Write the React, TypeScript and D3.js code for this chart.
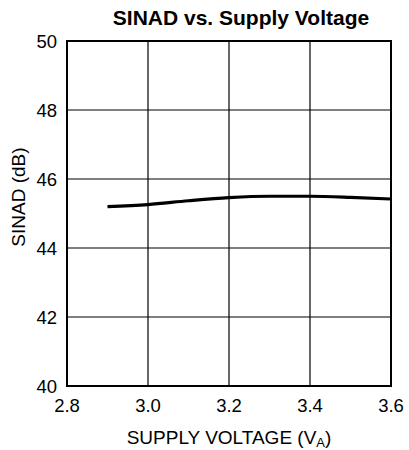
import React, { useEffect, useRef } from 'react'
import * as d3 from 'd3'

const voltage = [2.9, 3.0, 3.1, 3.2, 3.3, 3.4, 3.5, 3.6]
const sinad = [45.2, 45.26, 45.37, 45.46, 45.5, 45.5, 45.47, 45.42]
const xTicks = [2.8, 3.0, 3.2, 3.4, 3.6]
const yTicks = [40, 42, 44, 46, 48, 50]

const W = 409
const H = 450
const margin = { top: 41, right: 18, bottom: 64, left: 67 }
const font = 'Arial, "Liberation Sans", sans-serif'

export default function App() {
  const ref = useRef<SVGSVGElement>(null)

  useEffect(() => {
    const svg = d3.select(ref.current)
    svg.selectAll('*').remove()
    const cw = W - margin.left - margin.right
    const ch = H - margin.top - margin.bottom

    const x = d3.scaleLinear().domain([2.8, 3.6]).range([0, cw])
    const y = d3.scaleLinear().domain([40, 50]).range([ch, 0])

    const g = svg.append('g')
      .attr('transform', 'translate(' + margin.left + ',' + margin.top + ')')

    // grid
    g.append('g').selectAll('line')
      .data(xTicks.slice(1, -1))
      .enter().append('line')
        .attr('x1', d => x(d)).attr('x2', d => x(d))
        .attr('y1', 0).attr('y2', ch)
        .attr('stroke', '#000').attr('stroke-width', 1.2)
    g.append('g').selectAll('line')
      .data(yTicks.slice(1, -1))
      .enter().append('line')
        .attr('x1', 0).attr('x2', cw)
        .attr('y1', d => y(d)).attr('y2', d => y(d))
        .attr('stroke', '#000').attr('stroke-width', 1.2)

    // frame
    g.append('rect')
      .attr('width', cw).attr('height', ch)
      .attr('fill', 'none').attr('stroke', '#000').attr('stroke-width', 2)

    // tick labels
    g.append('g').selectAll('text')
      .data(xTicks)
      .enter().append('text')
        .attr('x', d => x(d))
        .attr('y', ch + 26)
        .attr('text-anchor', 'middle')
        .attr('font-family', font).attr('font-size', 18.5)
        .text(d => d3.format('.1f')(d))
    g.append('g').selectAll('text')
      .data(yTicks)
      .enter().append('text')
        .attr('x', -10)
        .attr('y', d => y(d) + 1)
        .attr('dy', '0.35em')
        .attr('text-anchor', 'end')
        .attr('font-family', font).attr('font-size', 18.5)
        .text(d => d)

    // curve
    const pts = voltage.map((v, i) => [v, sinad[i]] as [number, number])
    g.append('path')
      .datum(pts)
      .attr('fill', 'none')
      .attr('stroke', '#000')
      .attr('stroke-width', 3.2)
      .attr('d', d3.line<[number, number]>()
        .x(d => x(d[0]))
        .y(d => y(d[1]))
        .curve(d3.curveMonotoneX))

    // title
    svg.append('text')
      .attr('x', 241).attr('y', 25)
      .attr('text-anchor', 'middle')
      .attr('font-family', font).attr('font-size', 21).attr('font-weight', 'bold')
      .text('SINAD vs. Supply Voltage')

    // x label
    const xl = svg.append('text')
      .attr('x', 229).attr('y', 444)
      .attr('text-anchor', 'middle')
      .attr('font-family', font).attr('font-size', 19)
    xl.append('tspan').text('SUPPLY VOLTAGE (V')
    xl.append('tspan').attr('font-size', 13).attr('dy', 3).text('A')
    xl.append('tspan').attr('dy', -3).text(')')

    // y label
    svg.append('text')
      .attr('transform', 'translate(25,' + 197 + ') rotate(-90)')
      .attr('text-anchor', 'middle')
      .attr('font-family', font).attr('font-size', 19)
      .text('SINAD (dB)')
  }, [])

  return (
    <svg ref={ref} width={W} height={H}
      style={{ position: 'absolute', left: 0, top: 0, background: '#fff' }} />
  )
}
